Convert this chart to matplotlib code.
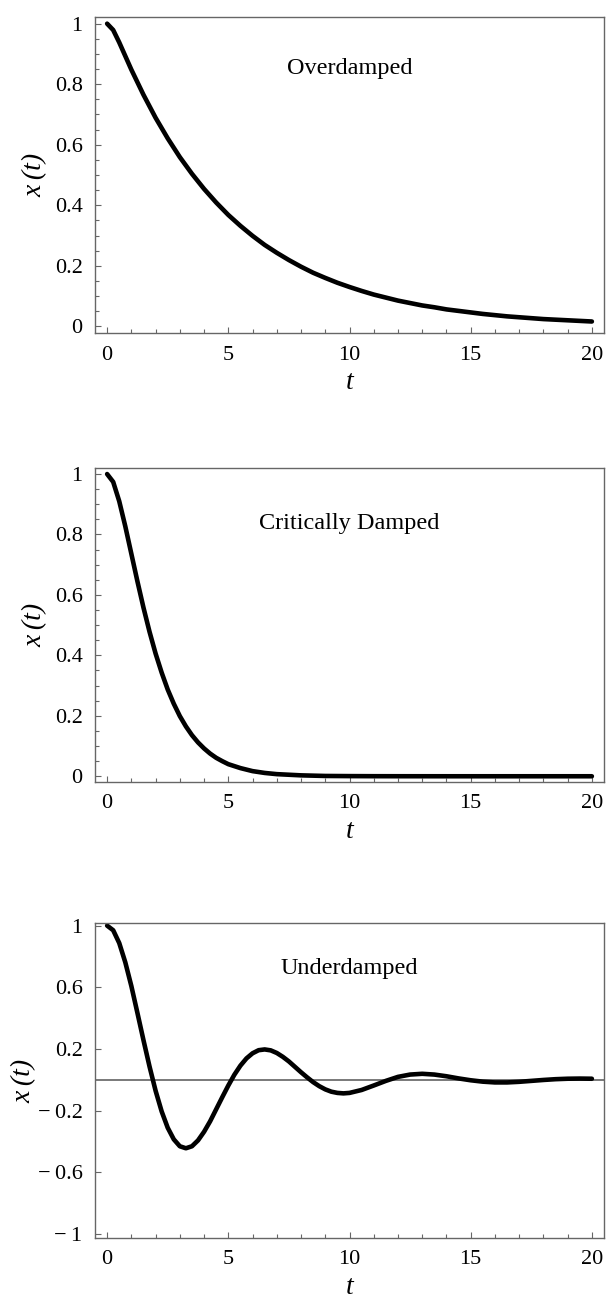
import matplotlib
matplotlib.use("Agg")
import matplotlib.pyplot as plt
from matplotlib.ticker import FixedLocator, MultipleLocator

plt.rcParams['font.family'] = ['Liberation Serif', 'DejaVu Serif']

# values
t_over = [0, 0.25, 0.5, 0.75, 1, 1.5, 2, 2.5, 3, 3.5, 4, 4.5, 5, 5.5, 6, 6.5,
          7, 7.5, 8, 8.5, 9, 9.5, 10, 10.5, 11, 11.5, 12, 12.5, 13, 13.5, 14,
          14.5, 15, 15.5, 16, 16.5, 17, 17.5, 18, 18.5, 19, 19.5, 20]
x_over = [1.0, 0.979, 0.938, 0.893, 0.848, 0.765, 0.689, 0.621, 0.559, 0.504,
          0.454, 0.409, 0.368, 0.332, 0.299, 0.269, 0.243, 0.219, 0.197,
          0.177, 0.160, 0.144, 0.130, 0.117, 0.105, 0.095, 0.085, 0.077,
          0.069, 0.063, 0.056, 0.051, 0.046, 0.041, 0.037, 0.033, 0.030,
          0.027, 0.024, 0.022, 0.020, 0.018, 0.016]

t_crit = [0, 0.25, 0.5, 0.75, 1, 1.25, 1.5, 1.75, 2, 2.25, 2.5, 2.75, 3,
          3.25, 3.5, 3.75, 4, 4.25, 4.5, 4.75, 5, 5.5, 6, 6.5, 7, 7.5, 8, 9,
          10, 11, 12, 14, 16, 18, 20]
x_crit = [1.0, 0.974, 0.910, 0.827, 0.736, 0.645, 0.558, 0.478, 0.406, 0.343,
          0.287, 0.240, 0.199, 0.165, 0.136, 0.112, 0.092, 0.075, 0.061,
          0.050, 0.040, 0.027, 0.017, 0.011, 0.007, 0.005, 0.003, 0.001,
          0.0005, 0.0002, 0.0001, 0.0, 0.0, 0.0, 0.0]

t_under = [0, 0.25, 0.5, 0.75, 1, 1.25, 1.5, 1.75, 2, 2.25, 2.5, 2.75, 3,
           3.25, 3.5, 3.75, 4, 4.25, 4.5, 4.75, 5, 5.25, 5.5, 5.75, 6, 6.25,
           6.5, 6.75, 7, 7.25, 7.5, 7.75, 8, 8.25, 8.5, 8.75, 9, 9.25, 9.5,
           9.75, 10, 10.5, 11, 11.5, 12, 12.5, 13, 13.5, 14, 14.5, 15, 15.5,
           16, 16.5, 17, 17.5, 18, 18.5, 19, 19.5, 20]
x_under = [1.0, 0.970, 0.887, 0.762, 0.608, 0.434, 0.257, 0.086, -0.071,
           -0.205, -0.311, -0.386, -0.431, -0.444, -0.431, -0.393, -0.337,
           -0.269, -0.191, -0.113, -0.037, 0.033, 0.092, 0.139, 0.172, 0.192,
           0.197, 0.191, 0.174, 0.149, 0.119, 0.084, 0.049, 0.016, -0.015,
           -0.041, -0.062, -0.077, -0.085, -0.088, -0.085, -0.066, -0.037,
           -0.007, 0.019, 0.034, 0.039, 0.034, 0.023, 0.009, -0.003, -0.012,
           -0.017, -0.017, -0.013, -0.007, -0.001, 0.004, 0.007, 0.008, 0.007]

titles = ["Overdamped", "Critically Damped", "Underdamped"]
x_ticks = [0, 5, 10, 15, 20]
x_ticklabels = ["0", "5", "10", "15", "20"]
y_ticks_top = [0, 0.2, 0.4, 0.6, 0.8, 1]
y_ticklabels_top = ["0", "0.2", "0.4", "0.6", "0.8", "1"]
y_ticks_under = [-1, -0.6, -0.2, 0.2, 0.6, 1]
y_ticklabels_under = ["\u2212\u20091", "\u2212\u20090.6", "\u2212\u20090.2",
                      "0.2", "0.6", "1"]

W, H = 606, 1299
fig = plt.figure(figsize=(W / 100, H / 100), dpi=100)

frame = '#666666'


def make_axes(top, bottom, left=95, right=604):
    return fig.add_axes([left / W, 1 - bottom / H, (right - left) / W,
                         (bottom - top) / H])


def style(ax, yticks, ylabels, yminor, ylab_x):
    ax.set_xlim(-0.5, 20.5)
    ax.xaxis.set_major_locator(FixedLocator(x_ticks))
    ax.set_xticklabels(x_ticklabels)
    ax.xaxis.set_minor_locator(MultipleLocator(1))
    ax.yaxis.set_major_locator(FixedLocator(yticks))
    ax.set_yticklabels(ylabels)
    if yminor:
        ax.yaxis.set_minor_locator(MultipleLocator(yminor))
    for s in ax.spines.values():
        s.set_color(frame)
        s.set_linewidth(1.0)
    ax.tick_params(which='both', direction='in', color=frame, width=0.8,
                   top=False, right=False, labelsize=16)
    ax.tick_params(which='major', length=4.5, pad=9)
    ax.tick_params(which='minor', length=2.6)
    ax.set_xlabel("t", fontsize=20, fontstyle='italic', va='center')
    ax.xaxis.set_label_coords(0.5, -0.158)
    ax.set_ylabel("x\u2009(t)", fontsize=20, fontstyle='italic',
                  va='center')
    ax.yaxis.set_label_coords(ylab_x, 0.5)


ax1 = make_axes(17, 333)
ax1.plot(t_over, x_over, color='black', lw=3.3, solid_capstyle='round')
ax1.set_ylim(-0.022, 1.022)
style(ax1, y_ticks_top, y_ticklabels_top, 0.05, -0.118)
ax1.text(10, 0.852, titles[0], ha='center', va='center', fontsize=17.5)

ax2 = make_axes(468, 782)
ax2.plot(t_crit, x_crit, color='black', lw=3.3, solid_capstyle='round')
ax2.set_ylim(-0.019, 1.02)
style(ax2, y_ticks_top, y_ticklabels_top, 0.05, -0.118)
ax2.text(10, 0.838, titles[1], ha='center', va='center', fontsize=17.5)

ax3 = make_axes(923, 1238)
ax3.axhline(0, color='#555555', lw=1.1, zorder=1)
ax3.plot(t_under, x_under, color='black', lw=3.3, solid_capstyle='round',
         zorder=2)
ax3.set_ylim(-1.026, 1.017)
style(ax3, y_ticks_under, y_ticklabels_under, None, -0.14)
ax3.text(10, 0.725, titles[2], ha='center', va='center', fontsize=17.5)

fig.savefig("out.png", dpi=100)
